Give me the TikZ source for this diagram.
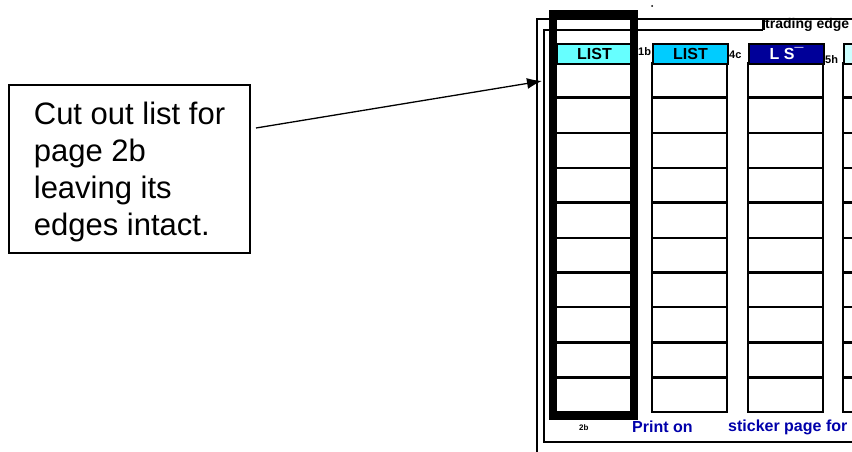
\documentclass[tikz,border=0pt]{standalone}
\usepackage{fontspec}
\setmainfont{Liberation Sans}
\usetikzlibrary{arrows,arrows.meta}
\definecolor{listcyan}{RGB}{102,255,255}
\definecolor{listsky}{RGB}{0,204,255}
\definecolor{listnavy}{RGB}{0,0,153}
\definecolor{listpale}{RGB}{204,255,255}
\definecolor{printblue}{RGB}{0,0,170}

\begin{document}
\begin{tikzpicture}[x=1pt,y=-1pt,>={Latex[length=15pt,width=11pt]},
  head/.style={draw,line width=2pt,anchor=north west,minimum width=75pt,minimum height=20pt,inner sep=0pt,font=\bfseries\fontsize{16}{16}\selectfont},
  tag/.style={anchor=west,inner sep=0pt,font=\bfseries\fontsize{11}{11}\selectfont},
  print/.style={anchor=west,inner sep=0pt,text=printblue,font=\bfseries\fontsize{16}{16}\selectfont}]
  \useasboundingbox (0,0) rectangle (852,452);
  % sheet frame
  \draw[line width=2pt] (852,19.5) -- (537,19.5) -- (537,452);
  \draw[line width=2pt] (763,30) -- (544,30) -- (544,442) -- (852,442);
  \draw[line width=3pt] (763,19.5) -- (763,30);
  \node[anchor=west,inner sep=0pt,font=\bfseries\fontsize{14}{14}\selectfont] (edge) at (765,25) {trading edge};
  \fill (652,6) circle (1);
  % list columns
  \foreach \x in {556,652,748,843} {
    \draw[line width=2pt] (\x,63) rectangle ++(75,349);
    \foreach \k in {2,3,5,7} \draw[line width=2pt] (\x,{63+\k*34.9}) -- ++(75,0);
    \foreach \k in {1,4,6,8,9} \draw[line width=3pt] (\x,{63+\k*34.9}) -- ++(75,0);
  }
  \node[head,fill=listcyan] (listA) at (556,43) {LIST};
  \node[head,fill=listsky] (listB) at (652,43) {LIST};
  \node[head,fill=listnavy,text=white] (listC) at (748,43) {L S¯};
  \node[head,fill=listpale] (listD) at (843,43) {};
  \node[tag] (1b) at (638,52) {1b};
  \node[tag] (4c) at (729,55) {4c};
  \node[tag] (5h) at (825,60) {5h};
  % cut line round list 2b
  \draw[line width=8pt] (552.5,14) rectangle (633.5,416);
  \node[anchor=west,inner sep=0pt,font=\bfseries\fontsize{8}{8}\selectfont] (2b) at (579,428) {2b};
  \node[print] (printon) at (632,427) {Print on};
  \node[print] (sticker) at (728,427) {sticker page for};
  % callout
  \node[draw,line width=2pt,minimum width=241pt,minimum height=168pt,inner sep=0pt,align=left,text depth=0pt,
    font=\fontsize{31}{37}\selectfont] (note) at (129.5,169) {Cut out list for\\page 2b\\leaving its\\edges intact.};
  \coordinate (tail) at ([xshift=5pt,yshift=41pt]note.east);
  \coordinate (tip) at (542,81);
  \draw[->,line width=1.3pt] (tail) -- (tip);
\end{tikzpicture}
\end{document}
